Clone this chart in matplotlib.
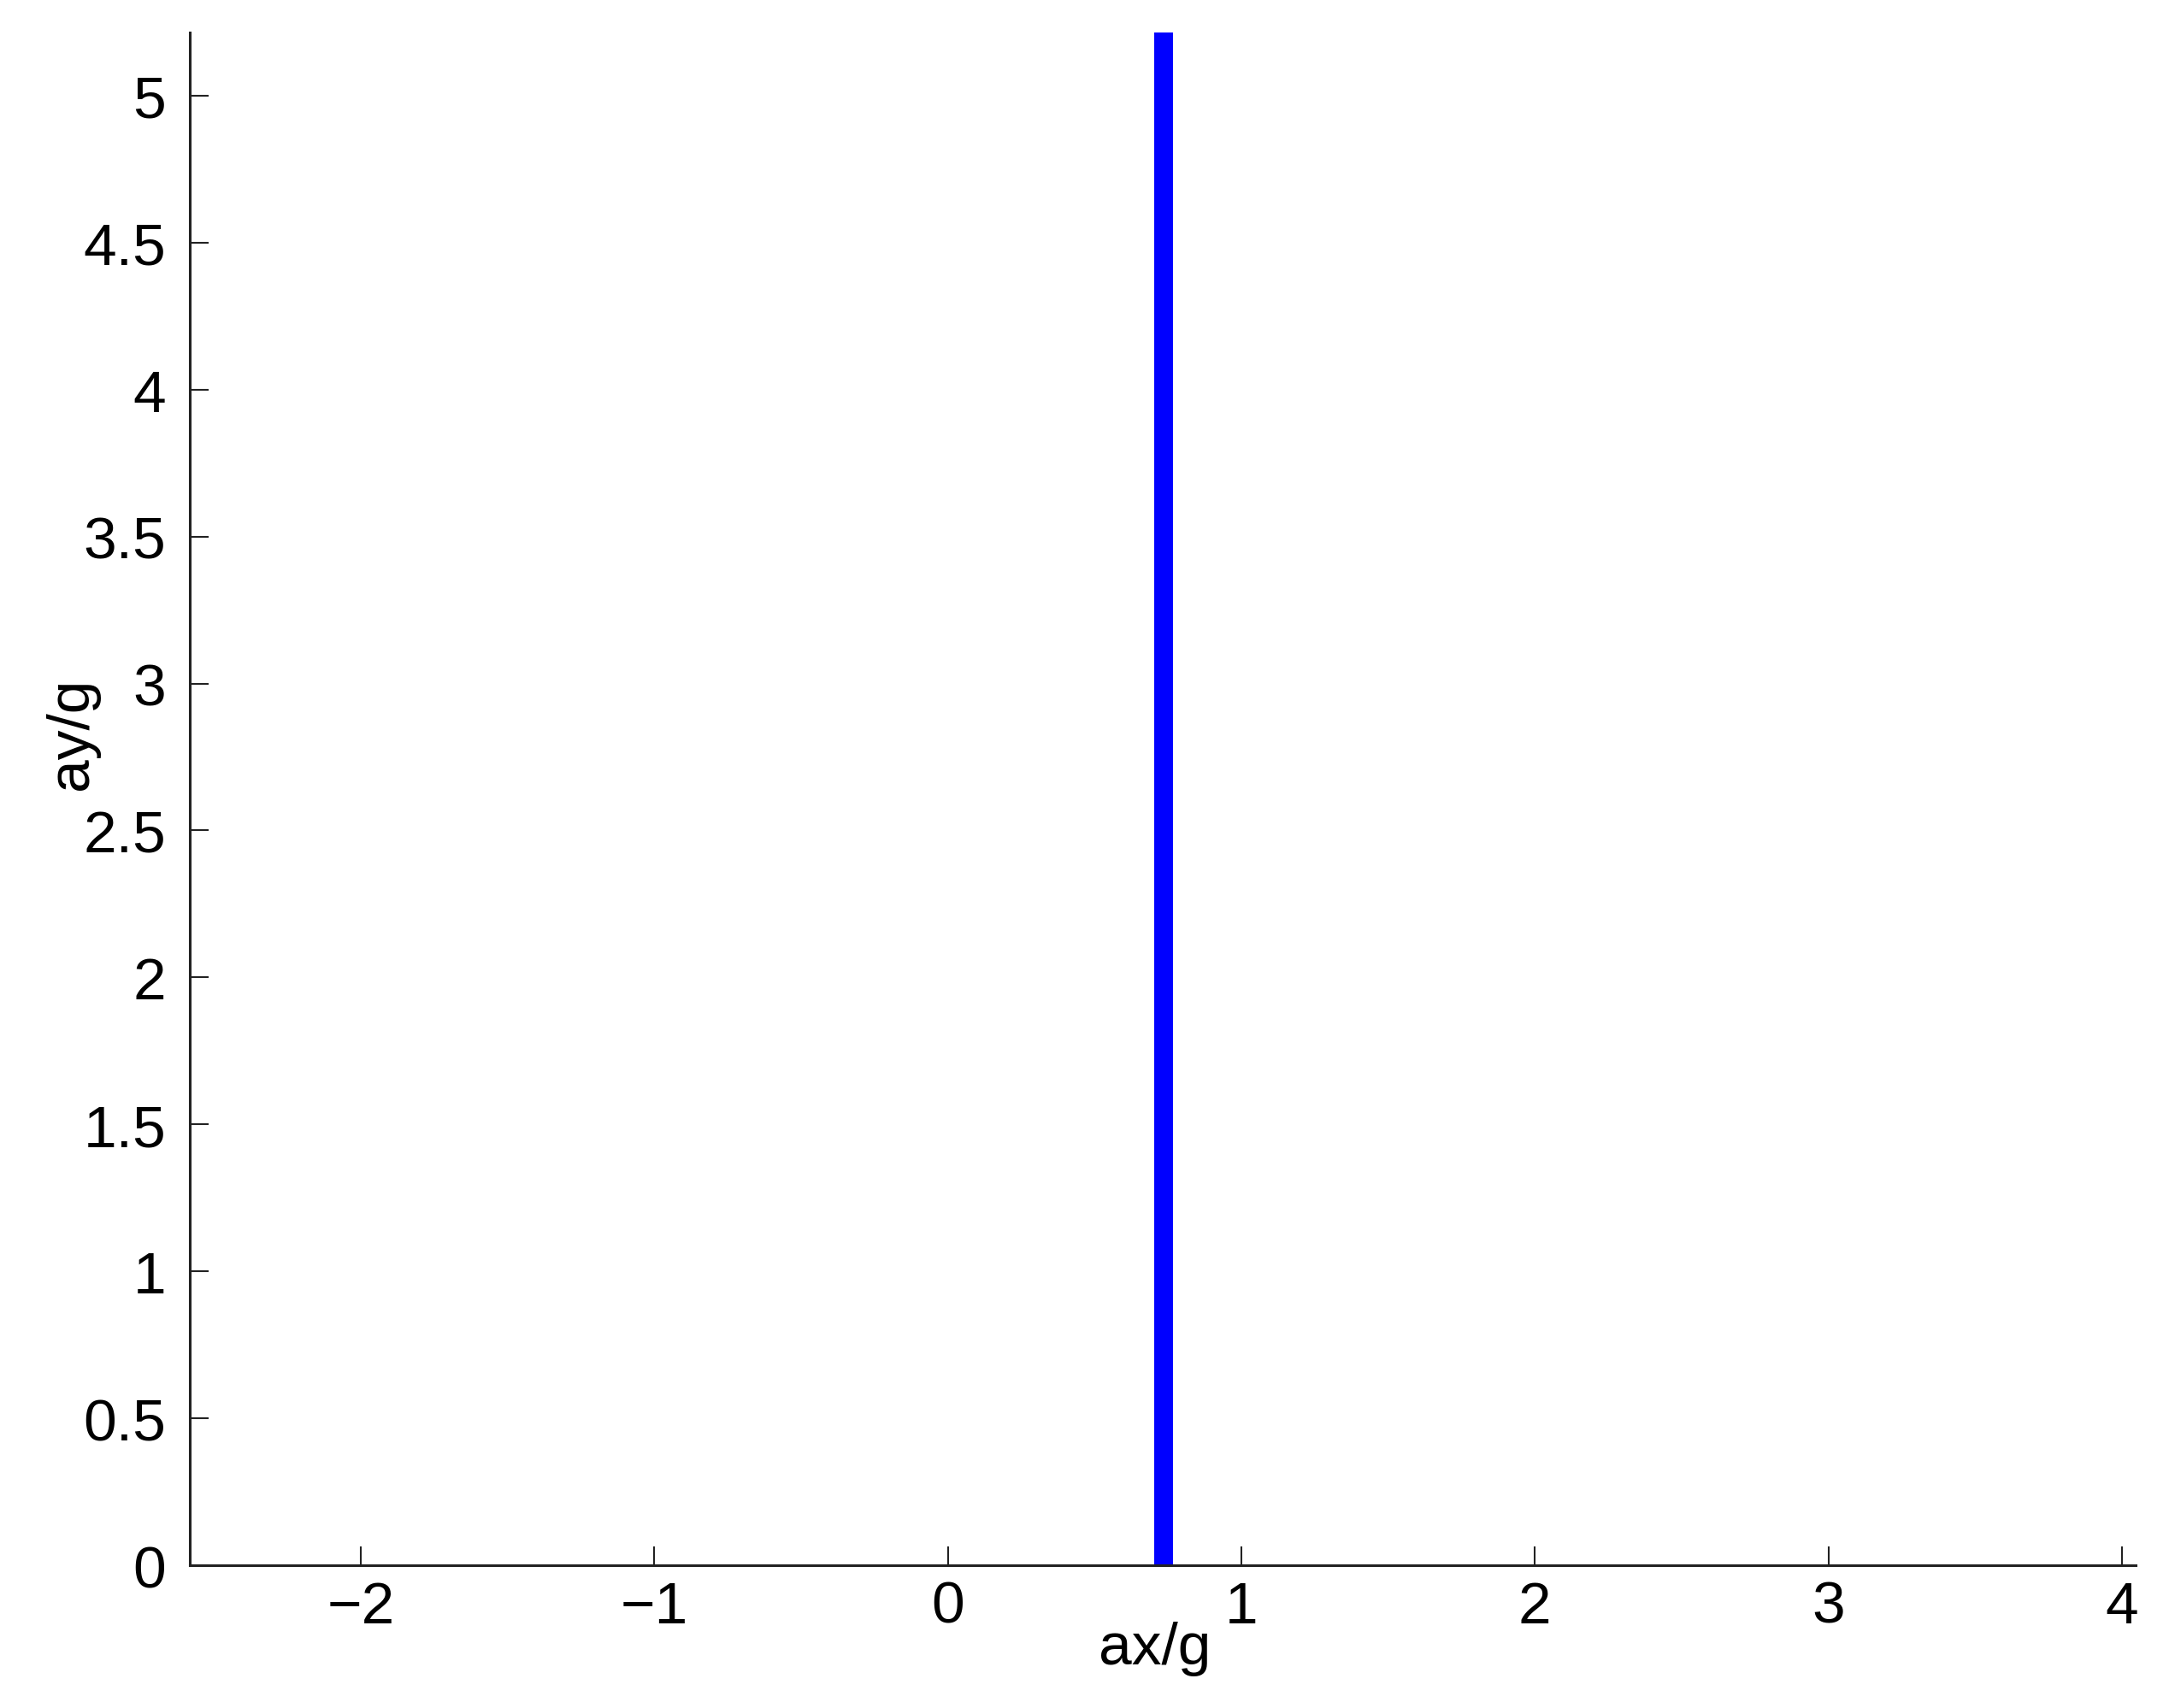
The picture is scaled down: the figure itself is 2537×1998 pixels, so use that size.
import numpy as np
import matplotlib
matplotlib.use("Agg")
import matplotlib.pyplot as plt

# data
ax_g = [0.735, 0.735]
ay_g = [0.0, 5.4]
x_ticks = [-2, -1, 0, 1, 2, 3, 4]
y_ticks = [0, 0.5, 1, 1.5, 2, 2.5, 3, 3.5, 4, 4.5, 5]
y_tick_labels = ["0", "0.5", "1", "1.5", "2", "2.5", "3", "3.5", "4", "4.5", "5"]

plt.rcParams['font.family'] = ['Liberation Sans', 'DejaVu Sans']

W, H = 2537, 1999
fig = plt.figure(figsize=(W / 100, H / 100), dpi=100)
ax = fig.add_axes([222 / W, 1 - 1832 / H, (2498 - 222) / W, (1832 - 39) / H])

ax.plot(ax_g, ay_g, color="#0000ff", linewidth=15.8, solid_capstyle="butt")

ax.set_xlim(-2.583, 4.047)
ax.set_ylim(0, 5.215)
ax.set_xticks(x_ticks)
ax.set_yticks(y_ticks)
ax.set_yticklabels(y_tick_labels)

for s in ["top", "right"]:
    ax.spines[s].set_visible(False)
for s in ["left", "bottom"]:
    ax.spines[s].set_linewidth(2.2)
    ax.spines[s].set_color("#222222")

ax.tick_params(direction="in", length=16, width=1.5, colors="#222222",
               labelcolor="black", labelsize=50)
ax.tick_params(axis="x", pad=12)
ax.tick_params(axis="y", pad=20)

ax.set_xlabel("ax/g", fontsize=50)
ax.set_ylabel("ay/g", fontsize=50)
ax.xaxis.set_label_coords((1351 - 222) / (2498 - 222), -(1929 - 1832) / (1832 - 39), transform=ax.transAxes)
ax.yaxis.set_label_coords(-(222 - 84) / (2498 - 222), (1832 - 858) / (1832 - 39), transform=ax.transAxes)
ax.xaxis.label.set_va("center")
ax.yaxis.label.set_va("center")

fig.savefig("out.png", dpi=100)
